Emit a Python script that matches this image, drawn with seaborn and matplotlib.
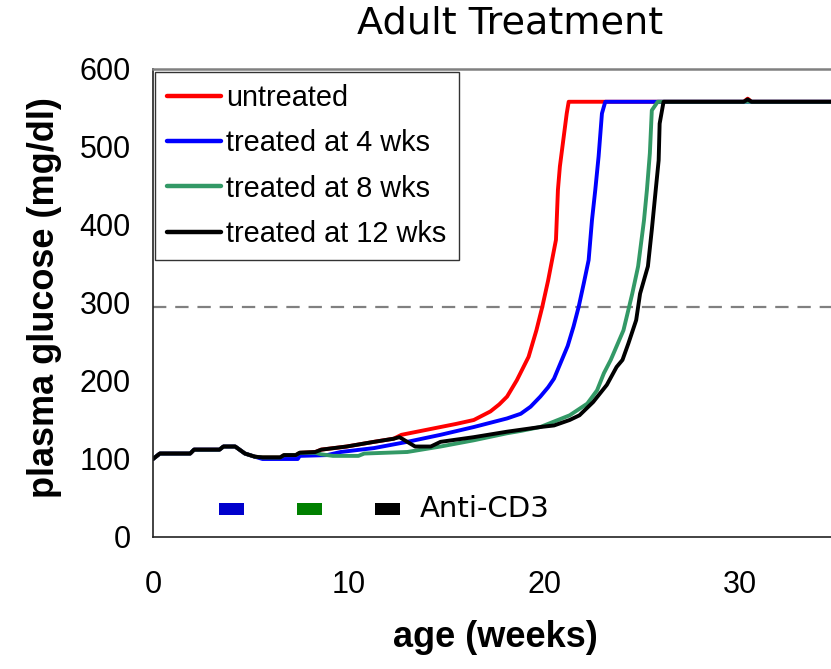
import matplotlib
matplotlib.use("Agg")
import matplotlib.pyplot as plt
import seaborn as sns
import pandas as pd

# ---------------- data ----------------
series_names = ["untreated", "treated at 4 wks", "treated at 8 wks", "treated at 12 wks"]
series_colors = ["#FF0000", "#0000FF", "#339966", "#000000"]

untreated_weeks = [0, 0.35, 1.9, 2.1, 3.4, 3.6, 4.2, 4.7, 5.2, 5.6, 6.5, 6.7, 7.3, 7.5, 8.3, 8.6, 9.9,
                   11.3, 12.3, 12.7, 13.5, 14.7, 15.5, 16.4, 17.25, 17.7, 18.1, 18.6, 19.2, 19.6, 19.9,
                   20.2, 20.4, 20.6, 20.7, 20.8, 21.15, 21.25, 30.2, 30.4, 30.6, 34.7]
untreated_glucose = [100, 107, 107, 112, 112, 116, 116, 107, 103, 102, 102, 105, 105, 108, 109, 112, 116,
                     122, 126, 131, 135, 141, 145, 150, 161, 170, 180, 201, 231, 265, 295,
                     329, 355, 381, 445, 475, 543, 558, 558, 562, 558, 558]

wk4_weeks = [0, 0.35, 1.9, 2.1, 3.4, 3.6, 4.2, 4.7, 5.2, 5.6, 7.4, 7.5, 8.9, 9.6, 11.3, 13.0, 14.7, 16.4,
             18.1, 18.8, 19.3, 19.8, 20.2, 20.5, 20.9, 21.2, 21.5, 21.76, 22.02, 22.27, 22.44, 22.61, 22.78,
             22.95, 23.12, 34.7]
wk4_glucose = [100, 107, 107, 112, 112, 116, 116, 107, 103, 100, 100, 104, 105, 109, 114, 122, 131, 141,
               152, 158, 167, 180, 192, 203, 227, 245, 270, 295, 325, 355, 406, 445, 488,
               543, 558, 558]

wk8_weeks = [0, 0.35, 1.9, 2.1, 3.4, 3.6, 4.2, 4.7, 5.2, 5.6, 6.5, 6.7, 7.3, 7.5, 8.3, 8.6, 9.2, 10.5,
             10.8, 13.0, 14.7, 16.4, 18.1, 18.8, 19.8, 20.5, 21.3, 22.2, 22.7, 23.05, 23.4, 24.05, 24.3,
             24.5, 24.8, 25.1, 25.25, 25.4, 25.5, 25.8, 34.7]
wk8_glucose = [100, 107, 107, 112, 112, 116, 116, 107, 103, 102, 102, 105, 105, 108, 108, 106, 104, 104,
               107, 109, 116, 124, 133, 136, 141, 148, 156, 171, 188, 210, 227, 265, 291,
               312, 347, 406, 445, 492, 547, 558, 558]

wk12_weeks = [0, 0.35, 1.9, 2.1, 3.4, 3.6, 4.2, 4.7, 5.2, 5.6, 6.5, 6.7, 7.3, 7.5, 8.3, 8.6, 9.9, 11.3,
              12.3, 12.6, 13.0, 13.4, 14.2, 14.7, 16.4, 18.1, 19.8, 20.5, 21.3, 21.8, 22.5, 23.2, 23.7,
              24.0, 24.3, 24.7, 24.9, 25.3, 25.5, 25.7, 25.85, 25.9, 26.1, 30.2, 30.4, 30.6, 34.7]
wk12_glucose = [100, 107, 107, 112, 112, 116, 116, 107, 103, 102, 102, 105, 105, 108, 109, 112, 116, 122,
                126, 128, 122, 116, 116, 122, 128, 135, 141, 143, 150, 156, 173, 195, 218,
                227, 248, 278, 312, 347, 394, 445, 483, 530, 558, 558, 561, 558, 558]

threshold = 295
treatment_weeks = [4, 8, 12]
treatment_colors = ["#0000CC", "#008000", "#000000"]
marker_bottom = 28
marker_height = 15
treatment_label = "Anti-CD3"

x_ticks = [0, 10, 20, 30]
y_ticks = [0, 100, 200, 300, 400, 500, 600]

# ---------------- style ----------------
sns.set_style("white")
plt.rcParams["font.family"] = ["Liberation Sans", "DejaVu Sans"]
plt.rcParams["text.color"] = "black"
plt.rcParams["axes.labelcolor"] = "black"
plt.rcParams["xtick.color"] = "black"
plt.rcParams["ytick.color"] = "black"

frames = []
for name, w, g in zip(series_names,
                      [untreated_weeks, wk4_weeks, wk8_weeks, wk12_weeks],
                      [untreated_glucose, wk4_glucose, wk8_glucose, wk12_glucose]):
    frames.append(pd.DataFrame({"age": w, "glucose": g, "group": name}))
df = pd.concat(frames, ignore_index=True)

fig = plt.figure(figsize=(8.31, 6.69), dpi=100)
ax = fig.add_axes([153 / 831, 1 - 537 / 669, 1 - 153 / 831, (537 - 69) / 669])

sns.lineplot(data=df, x="age", y="glucose", hue="group", hue_order=series_names,
             palette=dict(zip(series_names, series_colors)), estimator=None, sort=False,
             linewidth=2.8, ax=ax)

ax.axhline(threshold, color="#808080", lw=1.6, ls=(0, (6, 4)), zorder=1)

ax.bar(treatment_weeks, [marker_height] * len(treatment_weeks), bottom=marker_bottom,
       width=1.3, color=treatment_colors, linewidth=0)
ax.text(13.65, marker_bottom + marker_height / 2, treatment_label, family="DejaVu Sans",
        fontsize=21, va="center", ha="left", color="black")

ax.set_xlim(0, 34.66)
ax.set_ylim(0, 600)
ax.set_xticks(x_ticks)
ax.set_yticks(y_ticks)
ax.tick_params(axis="both", direction="out", length=8, width=1, color="black",
               labelsize=22, labelcolor="black")
ax.tick_params(axis="x", pad=16)
ax.tick_params(axis="y", pad=8)

for s in ["left", "bottom"]:
    ax.spines[s].set_color("#222222")
    ax.spines[s].set_linewidth(1.2)
ax.spines["top"].set_color("#808080")
ax.spines["top"].set_linewidth(1.8)
ax.spines["right"].set_visible(False)

ax.set_xlabel("age (weeks)", fontsize=26, fontweight="bold", color="black")
ax.set_ylabel("plasma glucose (mg/dl)", fontsize=26, fontweight="bold", color="black")
ax.xaxis.set_label_coords((495 - 153) / 678, (537 - 620) / 468)
ax.yaxis.set_label_coords((62 - 153) / 678, (537 - 298) / 468)

handles, labels = ax.get_legend_handles_labels()
leg = ax.legend(handles, labels, loc="upper left", bbox_to_anchor=(0.003, 0.994),
                borderaxespad=0, frameon=True, fancybox=False, fontsize=20.8,
                handlelength=1.85, handletextpad=0.2, labelspacing=0.6, borderpad=0.42)
leg.get_frame().set_edgecolor("black")
leg.get_frame().set_linewidth(1.0)
for line in leg.get_lines():
    line.set_linewidth(3.2)
for t in leg.get_texts():
    t.set_color("black")

fig.text(510 / 831, 1 - 24 / 669, "Adult Treatment", family="DejaVu Sans", fontsize=27.5,
         ha="center", va="center", color="black")

fig.savefig("out.png", dpi=100)
